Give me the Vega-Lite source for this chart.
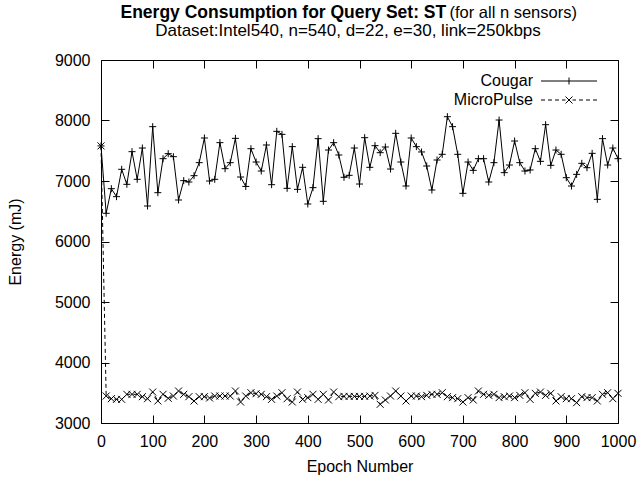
{
"$schema": "https://vega.github.io/schema/vega-lite/v6.json",
"width": 517, "height": 363,
"autosize": "none",
"padding": {"left": 101, "top": 60, "right": 24, "bottom": 60},
"background": "white",
"title": {"text": "Dataset:Intel540, n=540, d=22, e=30, link=250kbps", "font": "Liberation Sans", "fontSize": 17, "fontWeight": "normal", "color": "black", "anchor": "middle", "dx": -11.5, "dy": 61, "offset": 24},
"config": {"view": {"stroke": null}, "font": "Liberation Sans"},
"data": {"values": [
{"epoch":0,"energy":7580,"series":"Cougar"},{"epoch":10,"energy":6466,"series":"Cougar"},{"epoch":20,"energy":6873,"series":"Cougar"},{"epoch":30,"energy":6741,"series":"Cougar"},{"epoch":40,"energy":7193,"series":"Cougar"},{"epoch":50,"energy":6945,"series":"Cougar"},{"epoch":60,"energy":7485,"series":"Cougar"},{"epoch":70,"energy":7028,"series":"Cougar"},{"epoch":80,"energy":7545,"series":"Cougar"},{"epoch":90,"energy":6587,"series":"Cougar"},
{"epoch":100,"energy":7898,"series":"Cougar"},{"epoch":110,"energy":6807,"series":"Cougar"},{"epoch":120,"energy":7369,"series":"Cougar"},{"epoch":130,"energy":7452,"series":"Cougar"},{"epoch":140,"energy":7402,"series":"Cougar"},{"epoch":150,"energy":6686,"series":"Cougar"},{"epoch":160,"energy":7006,"series":"Cougar"},{"epoch":170,"energy":6983,"series":"Cougar"},{"epoch":180,"energy":7088,"series":"Cougar"},{"epoch":190,"energy":7303,"series":"Cougar"},
{"epoch":200,"energy":7711,"series":"Cougar"},{"epoch":210,"energy":7000,"series":"Cougar"},{"epoch":220,"energy":7028,"series":"Cougar"},{"epoch":230,"energy":7634,"series":"Cougar"},{"epoch":240,"energy":7204,"series":"Cougar"},{"epoch":250,"energy":7303,"series":"Cougar"},{"epoch":260,"energy":7705,"series":"Cougar"},{"epoch":270,"energy":7066,"series":"Cougar"},{"epoch":280,"energy":6910,"series":"Cougar"},{"epoch":290,"energy":7534,"series":"Cougar"},
{"epoch":300,"energy":7314,"series":"Cougar"},{"epoch":310,"energy":7165,"series":"Cougar"},{"epoch":320,"energy":7595,"series":"Cougar"},{"epoch":330,"energy":6939,"series":"Cougar"},{"epoch":340,"energy":7821,"series":"Cougar"},{"epoch":350,"energy":7771,"series":"Cougar"},{"epoch":360,"energy":6879,"series":"Cougar"},{"epoch":370,"energy":7568,"series":"Cougar"},{"epoch":380,"energy":6862,"series":"Cougar"},{"epoch":390,"energy":7226,"series":"Cougar"},
{"epoch":400,"energy":6620,"series":"Cougar"},{"epoch":410,"energy":6890,"series":"Cougar"},{"epoch":420,"energy":7700,"series":"Cougar"},{"epoch":430,"energy":6664,"series":"Cougar"},{"epoch":440,"energy":7512,"series":"Cougar"},{"epoch":450,"energy":7634,"series":"Cougar"},{"epoch":460,"energy":7430,"series":"Cougar"},{"epoch":470,"energy":7061,"series":"Cougar"},{"epoch":480,"energy":7094,"series":"Cougar"},{"epoch":490,"energy":7545,"series":"Cougar"},
{"epoch":500,"energy":6950,"series":"Cougar"},{"epoch":510,"energy":7716,"series":"Cougar"},{"epoch":520,"energy":7226,"series":"Cougar"},{"epoch":530,"energy":7584,"series":"Cougar"},{"epoch":540,"energy":7468,"series":"Cougar"},{"epoch":550,"energy":7562,"series":"Cougar"},{"epoch":560,"energy":7198,"series":"Cougar"},{"epoch":570,"energy":7788,"series":"Cougar"},{"epoch":580,"energy":7314,"series":"Cougar"},{"epoch":590,"energy":6917,"series":"Cougar"},
{"epoch":600,"energy":7711,"series":"Cougar"},{"epoch":610,"energy":7568,"series":"Cougar"},{"epoch":620,"energy":7480,"series":"Cougar"},{"epoch":630,"energy":7248,"series":"Cougar"},{"epoch":640,"energy":6851,"series":"Cougar"},{"epoch":650,"energy":7347,"series":"Cougar"},{"epoch":660,"energy":7441,"series":"Cougar"},{"epoch":670,"energy":8063,"series":"Cougar"},{"epoch":680,"energy":7898,"series":"Cougar"},{"epoch":690,"energy":7441,"series":"Cougar"},
{"epoch":700,"energy":6796,"series":"Cougar"},{"epoch":710,"energy":7314,"series":"Cougar"},{"epoch":720,"energy":7176,"series":"Cougar"},{"epoch":730,"energy":7369,"series":"Cougar"},{"epoch":740,"energy":7369,"series":"Cougar"},{"epoch":750,"energy":6983,"series":"Cougar"},{"epoch":760,"energy":7303,"series":"Cougar"},{"epoch":770,"energy":8008,"series":"Cougar"},{"epoch":780,"energy":7138,"series":"Cougar"},{"epoch":790,"energy":7264,"series":"Cougar"},
{"epoch":800,"energy":7661,"series":"Cougar"},{"epoch":810,"energy":7303,"series":"Cougar"},{"epoch":820,"energy":7165,"series":"Cougar"},{"epoch":830,"energy":7182,"series":"Cougar"},{"epoch":840,"energy":7534,"series":"Cougar"},{"epoch":850,"energy":7325,"series":"Cougar"},{"epoch":860,"energy":7931,"series":"Cougar"},{"epoch":870,"energy":7259,"series":"Cougar"},{"epoch":880,"energy":7512,"series":"Cougar"},{"epoch":890,"energy":7441,"series":"Cougar"},
{"epoch":900,"energy":7055,"series":"Cougar"},{"epoch":910,"energy":6917,"series":"Cougar"},{"epoch":920,"energy":7110,"series":"Cougar"},{"epoch":930,"energy":7292,"series":"Cougar"},{"epoch":940,"energy":7220,"series":"Cougar"},{"epoch":950,"energy":7457,"series":"Cougar"},{"epoch":960,"energy":6697,"series":"Cougar"},{"epoch":970,"energy":7700,"series":"Cougar"},{"epoch":980,"energy":7264,"series":"Cougar"},{"epoch":990,"energy":7545,"series":"Cougar"},
{"epoch":1000,"energy":7369,"series":"Cougar"},
{"epoch":0,"energy":7580,"series":"MicroPulse"},{"epoch":10,"energy":3446,"series":"MicroPulse"},{"epoch":20,"energy":3402,"series":"MicroPulse"},{"epoch":30,"energy":3391,"series":"MicroPulse"},{"epoch":40,"energy":3391,"series":"MicroPulse"},{"epoch":50,"energy":3474,"series":"MicroPulse"},{"epoch":60,"energy":3474,"series":"MicroPulse"},{"epoch":70,"energy":3474,"series":"MicroPulse"},{"epoch":80,"energy":3435,"series":"MicroPulse"},{"epoch":90,"energy":3402,"series":"MicroPulse"},
{"epoch":100,"energy":3512,"series":"MicroPulse"},{"epoch":110,"energy":3364,"series":"MicroPulse"},{"epoch":120,"energy":3474,"series":"MicroPulse"},{"epoch":130,"energy":3408,"series":"MicroPulse"},{"epoch":140,"energy":3446,"series":"MicroPulse"},{"epoch":150,"energy":3529,"series":"MicroPulse"},{"epoch":160,"energy":3474,"series":"MicroPulse"},{"epoch":170,"energy":3435,"series":"MicroPulse"},{"epoch":180,"energy":3364,"series":"MicroPulse"},{"epoch":190,"energy":3435,"series":"MicroPulse"},
{"epoch":200,"energy":3435,"series":"MicroPulse"},{"epoch":210,"energy":3413,"series":"MicroPulse"},{"epoch":220,"energy":3446,"series":"MicroPulse"},{"epoch":230,"energy":3446,"series":"MicroPulse"},{"epoch":240,"energy":3446,"series":"MicroPulse"},{"epoch":250,"energy":3446,"series":"MicroPulse"},{"epoch":260,"energy":3529,"series":"MicroPulse"},{"epoch":270,"energy":3347,"series":"MicroPulse"},{"epoch":280,"energy":3446,"series":"MicroPulse"},{"epoch":290,"energy":3501,"series":"MicroPulse"},
{"epoch":300,"energy":3485,"series":"MicroPulse"},{"epoch":310,"energy":3474,"series":"MicroPulse"},{"epoch":320,"energy":3435,"series":"MicroPulse"},{"epoch":330,"energy":3391,"series":"MicroPulse"},{"epoch":340,"energy":3446,"series":"MicroPulse"},{"epoch":350,"energy":3501,"series":"MicroPulse"},{"epoch":360,"energy":3402,"series":"MicroPulse"},{"epoch":370,"energy":3347,"series":"MicroPulse"},{"epoch":380,"energy":3512,"series":"MicroPulse"},{"epoch":390,"energy":3391,"series":"MicroPulse"},
{"epoch":400,"energy":3419,"series":"MicroPulse"},{"epoch":410,"energy":3474,"series":"MicroPulse"},{"epoch":420,"energy":3391,"series":"MicroPulse"},{"epoch":430,"energy":3474,"series":"MicroPulse"},{"epoch":440,"energy":3380,"series":"MicroPulse"},{"epoch":450,"energy":3512,"series":"MicroPulse"},{"epoch":460,"energy":3435,"series":"MicroPulse"},{"epoch":470,"energy":3440,"series":"MicroPulse"},{"epoch":480,"energy":3440,"series":"MicroPulse"},{"epoch":490,"energy":3440,"series":"MicroPulse"},
{"epoch":500,"energy":3440,"series":"MicroPulse"},{"epoch":510,"energy":3440,"series":"MicroPulse"},{"epoch":520,"energy":3446,"series":"MicroPulse"},{"epoch":530,"energy":3457,"series":"MicroPulse"},{"epoch":540,"energy":3309,"series":"MicroPulse"},{"epoch":550,"energy":3380,"series":"MicroPulse"},{"epoch":560,"energy":3446,"series":"MicroPulse"},{"epoch":570,"energy":3529,"series":"MicroPulse"},{"epoch":580,"energy":3446,"series":"MicroPulse"},{"epoch":590,"energy":3364,"series":"MicroPulse"},
{"epoch":600,"energy":3446,"series":"MicroPulse"},{"epoch":610,"energy":3446,"series":"MicroPulse"},{"epoch":620,"energy":3435,"series":"MicroPulse"},{"epoch":630,"energy":3457,"series":"MicroPulse"},{"epoch":640,"energy":3474,"series":"MicroPulse"},{"epoch":650,"energy":3474,"series":"MicroPulse"},{"epoch":660,"energy":3501,"series":"MicroPulse"},{"epoch":670,"energy":3435,"series":"MicroPulse"},{"epoch":680,"energy":3419,"series":"MicroPulse"},{"epoch":690,"energy":3402,"series":"MicroPulse"},
{"epoch":700,"energy":3347,"series":"MicroPulse"},{"epoch":710,"energy":3419,"series":"MicroPulse"},{"epoch":720,"energy":3380,"series":"MicroPulse"},{"epoch":730,"energy":3529,"series":"MicroPulse"},{"epoch":740,"energy":3474,"series":"MicroPulse"},{"epoch":750,"energy":3457,"series":"MicroPulse"},{"epoch":760,"energy":3474,"series":"MicroPulse"},{"epoch":770,"energy":3419,"series":"MicroPulse"},{"epoch":780,"energy":3435,"series":"MicroPulse"},{"epoch":790,"energy":3446,"series":"MicroPulse"},
{"epoch":800,"energy":3419,"series":"MicroPulse"},{"epoch":810,"energy":3457,"series":"MicroPulse"},{"epoch":820,"energy":3501,"series":"MicroPulse"},{"epoch":830,"energy":3391,"series":"MicroPulse"},{"epoch":840,"energy":3490,"series":"MicroPulse"},{"epoch":850,"energy":3512,"series":"MicroPulse"},{"epoch":860,"energy":3457,"series":"MicroPulse"},{"epoch":870,"energy":3490,"series":"MicroPulse"},{"epoch":880,"energy":3364,"series":"MicroPulse"},{"epoch":890,"energy":3435,"series":"MicroPulse"},
{"epoch":900,"energy":3402,"series":"MicroPulse"},{"epoch":910,"energy":3402,"series":"MicroPulse"},{"epoch":920,"energy":3336,"series":"MicroPulse"},{"epoch":930,"energy":3435,"series":"MicroPulse"},{"epoch":940,"energy":3419,"series":"MicroPulse"},{"epoch":950,"energy":3419,"series":"MicroPulse"},{"epoch":960,"energy":3364,"series":"MicroPulse"},{"epoch":970,"energy":3474,"series":"MicroPulse"},{"epoch":980,"energy":3501,"series":"MicroPulse"},{"epoch":990,"energy":3402,"series":"MicroPulse"},
{"epoch":1000,"energy":3490,"series":"MicroPulse"}
]},
"layer": [
 {"transform": [{"filter": "datum.series === 'Cougar'"}],
  "mark": {"type": "line", "color": "black", "strokeWidth": 1},
  "encoding": {
   "x": {"field": "epoch", "type": "quantitative", "scale": {"domain": [0, 1000], "nice": false, "zero": false},
     "axis": {"orient": "bottom", "values": [0,100,200,300,400,500,600,700,800,900,1000], "format": "d", "grid": false, "tickSize": -8, "labelPadding": 18, "labelFlush": false, "labelOverlap": false, "domainColor": "black", "tickColor": "black", "labelColor": "black", "labelFont": "Liberation Sans", "labelFontSize": 16, "title": "Epoch Number", "titleFont": "Liberation Sans", "titleFontSize": 16, "titleFontWeight": "normal", "titleColor": "black", "titleY": 48, "titleBaseline": "alphabetic"}},
   "y": {"field": "energy", "type": "quantitative", "scale": {"domain": [3000, 9000], "nice": false, "zero": false},
     "axis": {"orient": "left", "values": [3000,4000,5000,6000,7000,8000,9000], "format": "d", "grid": false, "tickSize": -8, "labelPadding": 19, "labelOverlap": false, "labelFlush": false, "domainColor": "black", "tickColor": "black", "labelColor": "black", "labelFont": "Liberation Sans", "labelFontSize": 16, "title": "Energy (mJ)", "titleFont": "Liberation Sans", "titleFontSize": 16, "titleFontWeight": "normal", "titleColor": "black", "titleX": -86, "titleY": 181.5, "titleAlign": "center", "titleBaseline": "middle", "titleAngle": -90}}
  }},
 {"transform": [{"filter": "datum.series === 'MicroPulse'"}],
  "mark": {"type": "line", "color": "black", "strokeWidth": 1, "strokeDash": [4, 3]},
  "encoding": {
   "x": {"field": "epoch", "type": "quantitative", "axis": null},
   "y": {"field": "energy", "type": "quantitative", "axis": null}
  }},
 {"mark": {"type": "point", "filled": false, "color": "black", "strokeWidth": 1, "size": 49, "opacity": 1},
  "encoding": {
   "x": {"field": "epoch", "type": "quantitative",
     "axis": {"orient": "top", "values": [0,100,200,300,400,500,600,700,800,900,1000], "grid": false, "tickSize": -8, "labels": false, "domainColor": "black", "tickColor": "black", "title": "(for all n sensors)", "titleFont": "Liberation Sans", "titleFontSize": 16.5, "titleFontWeight": "normal", "titleColor": "black", "titleX": 348, "titleY": -43, "titleAlign": "left", "titleBaseline": "alphabetic", "titleAngle": 0}},
   "y": {"field": "energy", "type": "quantitative",
     "axis": {"orient": "right", "values": [3000,4000,5000,6000,7000,8000,9000], "grid": false, "tickSize": -8, "labels": false, "domainColor": "black", "tickColor": "black", "title": "Energy Consumption for Query Set: ST", "titleFont": "Liberation Sans", "titleFontSize": 17.5, "titleFontWeight": "bold", "titleColor": "black", "titleX": -498, "titleY": -43, "titleAlign": "left", "titleBaseline": "alphabetic", "titleAngle": 0}},
   "shape": {"field": "series", "type": "nominal",
     "scale": {"domain": ["Cougar", "MicroPulse"], "range": ["M-1,0L1,0M0,-1L0,1", "M-1,-1L1,1M-1,1L1,-1"]},
     "legend": null}
  }},
 {"transform": [{"filter": "false"}],
  "mark": {"type": "point", "filled": false, "color": "black", "strokeWidth": 1, "size": 100, "opacity": 1},
  "encoding": {
   "x": {"field": "epoch", "type": "quantitative", "axis": null},
   "y": {"field": "energy", "type": "quantitative", "axis": null},
   "shape": {"field": "series", "type": "nominal",
     "scale": {"domain": ["Cougar", "MicroPulse"], "range": ["M-5.6,0L5.6,0M0,-0.7L0,0.7", "M-5.6,0L-4.8,0M-4.2,0L-3.4,0M-2.8,0L-2,0M-1.4,0L-0.7,0M0.7,0L1.4,0M2,0L2.8,0M3.4,0L4.2,0M4.8,0L5.6,0M-0.7,-0.7L0.7,0.7M-0.7,0.7L0.7,-0.7"]},
     "legend": {"orient": "none", "legendX": 460, "legendY": 13, "title": null, "labelFont": "Liberation Sans", "labelFontSize": 16, "labelColor": "black", "labelAlign": "right", "labelOffset": -44, "symbolSize": 100, "symbolStrokeWidth": 1, "symbolStrokeColor": "black", "symbolFillColor": "transparent", "symbolOpacity": 1, "rowPadding": 3, "padding": 0}}
  }}
],
"resolve": {"axis": {"x": "independent", "y": "independent"}, "scale": {"shape": "independent"}}
}
